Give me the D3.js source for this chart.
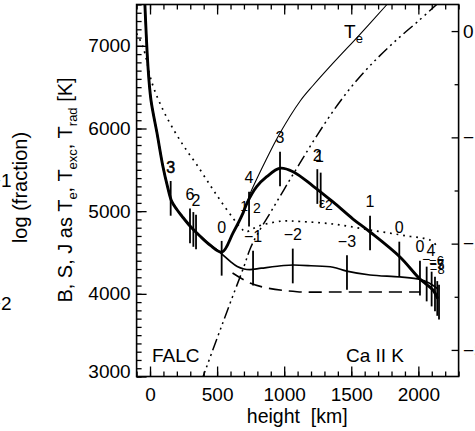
<!DOCTYPE html>
<html><head><meta charset="utf-8">
<script src="https://cdn.jsdelivr.net/npm/d3@7"></script>
<style>
body{margin:0;background:#fff;}
svg{display:block;}
text{font-family:"Liberation Sans",Arial,Helvetica,sans-serif;fill:#000;}
</style></head><body>
<svg id="c" width="475" height="431"></svg>
<script>
// ---------------- data ----------------
// Te (thin solid)
const teH = [-45,-15,7,52,97,130,160,200,240,298,372,447,537,618,693,723,745,857,969,1118,1215,1364,1565,1766,1820];
const teT = [7770,6744,6345,5945,5534,5300,5125,5020,4935,4821,4700,4591,4506,4735,4977,5098,5207,5594,5945,6330,6520,6790,7140,7500,7600];
// S (thick solid)
const sH = [-45,-15,7,52,97,130,160,200,240,298,372,447,537,618,693,723,795,870,969,1066,1215,1364,1513,1640,1863,2012,2109,2145];
const sT = [7770,6744,6345,5945,5534,5300,5125,5020,4935,4821,4700,4591,4506,4735,4977,5098,5296,5417,5519,5477,5304,5111,4905,4748,4446,4179,4046,3940];
// J (medium solid)
const jH = [-45,-15,7,52,97,130,160,200,240,298,372,447,500,540,600,650,700,745,830,998,1066,1200,1364,1466,1640,1863,2012,2080,2145];
const jT = [7770,6744,6345,5945,5534,5300,5125,5020,4935,4821,4700,4591,4530,4475,4390,4330,4300,4292,4310,4343,4349,4340,4322,4275,4228,4204,4175,4130,4060];
// dotted curve
const dotH = [-100,-52,15,97,186,261,350,447,522,618,678,715,760,835,991,1118,1364,1640,1916,2087,2132];
const dotT = [7150,6986,6551,6224,5958,5764,5558,5316,5135,4917,4796,4748,4784,4833,4881,4875,4845,4772,4700,4651,4591];
// dashed curve
const dashH = [615,745,872,1096,1416,2015];
const dashT = [4252,4131,4071,4026,4022,4022];
// dash-dot-dot-dot curve
const ddH = [380,500,600,700,745,800,900,1000,1118,1250,1400,1550,1700,1850,2000,2160];
const ddT = [2930,3462,3900,4330,4540,4720,4990,5265,5583,5930,6290,6600,6860,7090,7300,7535];
// tau=1 markers: height, temperature, label
const barH   = [154,298,323,343,534,738,768,969,1064,1247,1272,1468,1640,1858,2012,2062,2099,2124,2141,2154];
const barT   = [5155,4821,4779,4748,4430,5026,4312,5510,4337,5298,5256,4258,4736,4421,4191,4119,4058,3998,3944,3900];
const barLab = ["3","6","","2","0","4","−1","3","−2","2","","−3","1","0","0","","","","",""];
// extra small labels (h, T, text, size)
const noteH = [701,797,1282,1334,1262,2094,2057,2135,2139,2141,2137];
const noteT = [5062,5038,5099,5075,5660,4530,4421,4400,4350,4300,4370];
const noteS = ["1","2","ε","2","1","4","−","−6","−5","−8","−7"];
const noteF = [14,14,14,14,16,16,14,13,13,13,13];
// axis ticks
const xMajor = [0,500,1000,1500,2000];
const xMinor = d3.range(-100,2301,100);
const yMajor = [3000,4000,5000,6000,7000];
const yMinor = d3.range(3000,7501,100);
const rMajor = [0,-1,-2,-3];
const rMinor = [-0.5,-1.5,-2.5];

// ---------------- scales ----------------
const X0=136.6, X1=458.6, Y0=376.5, Y1=4.5;
const x = d3.scaleLinear().domain([-100,2300]).range([X0,X1]);
const y = d3.scaleLinear().domain([3000,7500]).range([Y0,Y1]);
const yR = d3.scaleLinear().domain([-3.25,0.25]).range([Y0,Y1]);

const svg = d3.select("#c");
svg.append("defs").append("clipPath").attr("id","clip")
  .append("rect").attr("x",X0).attr("y",Y1).attr("width",X1-X0).attr("height",Y0-Y1);

const g = svg.append("g").attr("clip-path","url(#clip)");
const line = d3.line().x(d=>x(d[0])).y(d=>y(d[1])).curve(d3.curveCatmullRom.alpha(0.5));
function series(H,T,w,dash){
  g.append("path").datum(H.map((h,i)=>[h,T[i]]))
   .attr("d",line).attr("fill","none").attr("stroke","#000")
   .attr("stroke-width",w).attr("stroke-dasharray",dash||null)
   .attr("stroke-linejoin","round");
}
series(dotH,dotT,1.7,"1.8,4.8");
series(ddH,ddT,1.5,"12,4,2,4,2,4,2,4");
series(dashH,dashT,1.6,"13,7");
series(teH,teT,1.1);
series(jH,jT,1.7);
series(sH,sT,2.9);

// bars
const barHalf = 210;
const bars = barH.map((h,i)=>({h,T:barT[i],lab:barLab[i]}));
svg.append("g").selectAll("line").data(bars).join("line")
  .attr("x1",d=>x(d.h)).attr("x2",d=>x(d.h))
  .attr("y1",d=>y(d.T+barHalf)).attr("y2",d=>y(d.T-barHalf))
  .attr("stroke","#000").attr("stroke-width",1.8);
svg.append("g").selectAll("text").data(bars.filter(d=>d.lab)).join("text")
  .attr("x",d=>x(d.h)).attr("y",d=>y(d.T+barHalf)-8.4)
  .attr("text-anchor","middle").attr("font-size",16)
  .attr("stroke",d=>d.h===154?"#000":null).attr("stroke-width",0.5)
  .text(d=>d.lab);
const notes = noteH.map((h,i)=>({h,T:noteT[i],s:noteS[i],f:noteF[i]}));
svg.append("g").selectAll("text").data(notes).join("text")
  .attr("x",d=>x(d.h)).attr("y",d=>y(d.T)+d.f*0.35)
  .attr("text-anchor","middle").attr("font-size",d=>d.f).text(d=>d.s);

// ---------------- axes ----------------
function styleAxis(sel){
  sel.select(".domain").remove();
  sel.selectAll("line").attr("stroke","#000").attr("stroke-width",1.3);
  sel.selectAll("text").attr("font-size",19).attr("font-family","Liberation Sans, Arial, sans-serif").attr("fill","#000");
}
svg.append("g").attr("transform",`translate(0,${Y0})`)
  .call(d3.axisBottom(x).tickValues(xMinor).tickSize(-5).tickFormat("")).call(styleAxis);
svg.append("g").attr("transform",`translate(0,${Y0})`)
  .call(d3.axisBottom(x).tickValues(xMajor).tickSize(-10).tickPadding(11).tickFormat(d3.format("d"))).call(styleAxis);
svg.append("g").attr("transform",`translate(0,${Y1})`)
  .call(d3.axisTop(x).tickValues(xMinor).tickSize(-5).tickFormat("")).call(styleAxis);
svg.append("g").attr("transform",`translate(0,${Y1})`)
  .call(d3.axisTop(x).tickValues(xMajor).tickSize(-10).tickFormat("")).call(styleAxis);
svg.append("g").attr("transform",`translate(${X0},0)`)
  .call(d3.axisLeft(y).tickValues(yMinor).tickSize(-5).tickFormat("")).call(styleAxis);
const yl = svg.append("g").attr("transform",`translate(${X0},0)`)
  .call(d3.axisLeft(y).tickValues(yMajor).tickSize(-10).tickPadding(6).tickFormat(d3.format("d"))).call(styleAxis);
yl.selectAll(".tick").filter(d=>d===3000).select("text").attr("dy","0.05em");
svg.append("g").attr("transform",`translate(${X1},0)`)
  .call(d3.axisRight(yR).tickValues(rMinor).tickSize(-4).tickFormat("")).call(styleAxis);
svg.append("g").attr("transform",`translate(${X1},0)`)
  .call(d3.axisRight(yR).tickValues(rMajor).tickSize(-7).tickPadding(4.5)
    .tickFormat(d=>d===0?"0":"−"+Math.abs(d))).call(styleAxis);

svg.append("rect").attr("x",X0).attr("y",Y1).attr("width",X1-X0).attr("height",Y0-Y1)
  .attr("fill","none").attr("stroke","#000").attr("stroke-width",1.6);

// axis titles
svg.append("text").attr("x",(x(0)+x(2000))/2+13).attr("y",423)
  .attr("text-anchor","middle").attr("font-size",19.5).attr("xml:space","preserve").text("height  [km]");
const yt = svg.append("text").attr("transform","translate(72,190) rotate(-90)")
  .attr("text-anchor","middle").attr("font-size",20);
yt.append("tspan").text("B, S, J as T");
yt.append("tspan").attr("font-size",13).attr("dy",5).text("e");
yt.append("tspan").attr("dy",-5).text(", T");
yt.append("tspan").attr("font-size",13).attr("dy",5).text("exc");
yt.append("tspan").attr("dy",-5).text(", T");
yt.append("tspan").attr("font-size",13).attr("dy",5).text("rad");
yt.append("tspan").attr("dy",-5).text(" [K]");

// clipped neighbour axis at far left
svg.append("text").attr("transform","translate(27,187.5) rotate(-90)")
  .attr("text-anchor","middle").attr("font-size",20).text("log (fraction)");
svg.append("text").attr("x",11.5).attr("y",187).attr("text-anchor","end").attr("font-size",19).text("−1");
svg.append("text").attr("x",11.5).attr("y",310).attr("text-anchor","end").attr("font-size",19).text("−2");

// in-plot labels
const te = svg.append("text").attr("x",x(1446)).attr("y",y(7095)).attr("font-size",19);
te.append("tspan").text("T");
te.append("tspan").attr("font-size",13).attr("dy",5).text("e");
svg.append("text").attr("x",x(15)).attr("y",y(3175)).attr("font-size",19).text("FALC");
svg.append("text").attr("x",x(1677)).attr("y",y(3175)).attr("text-anchor","middle").attr("font-size",19).text("Ca II K");
</script>
</body></html>
